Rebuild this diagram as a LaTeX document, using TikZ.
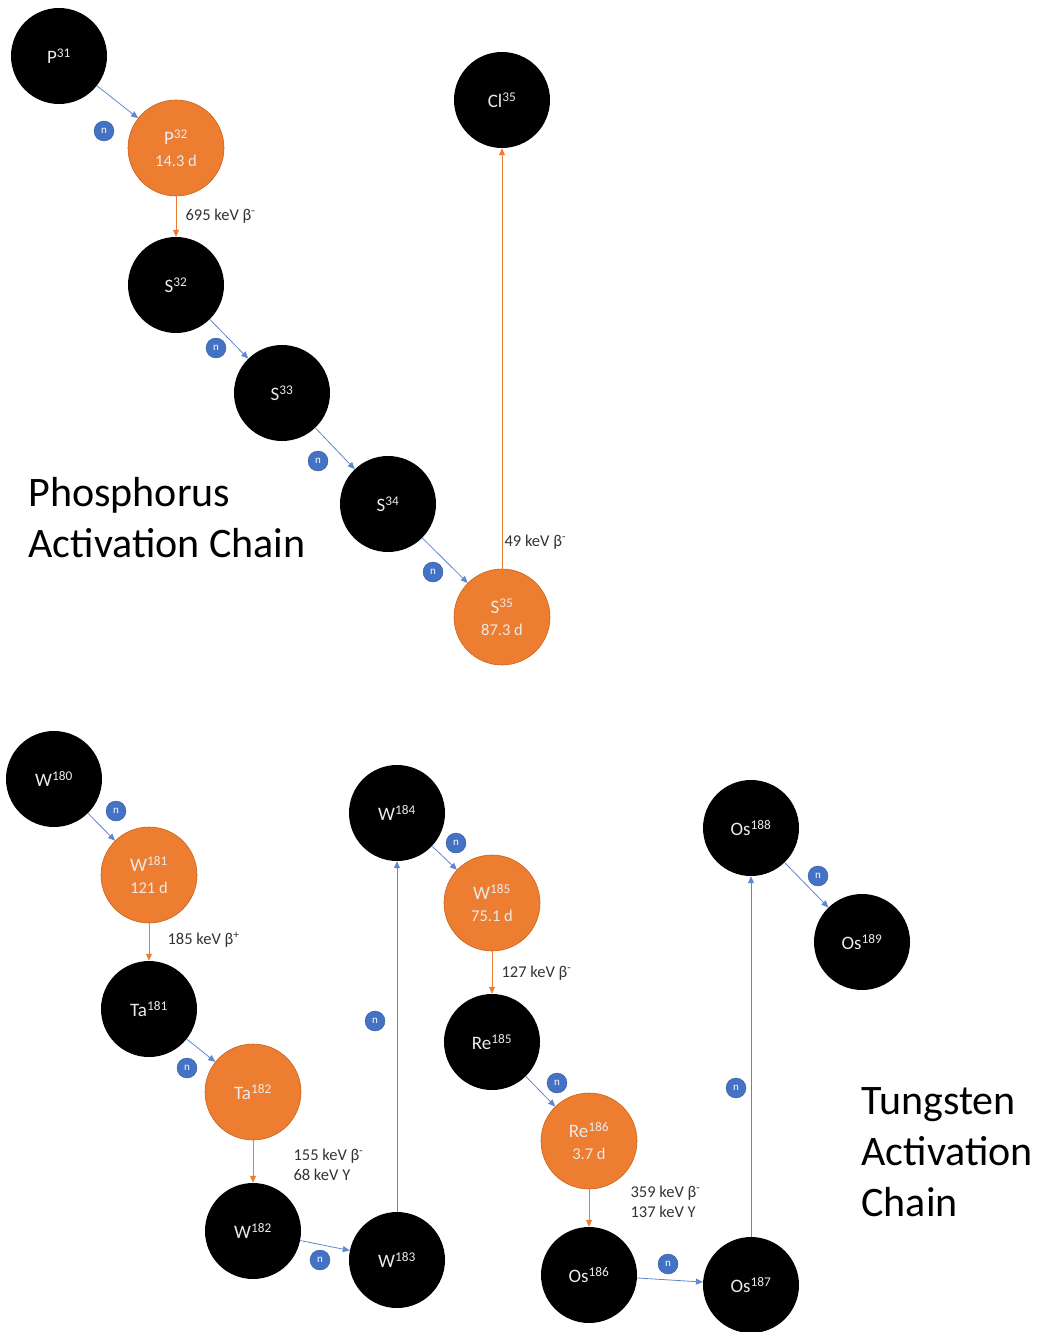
\documentclass[tikz,border=0pt]{standalone}
\usepackage{fontspec}
\setmainfont{Carlito}
\usepackage{tikz}
\usetikzlibrary{arrows.meta}
\definecolor{decayOrange}{HTML}{ED7D31}
\definecolor{decayEdge}{HTML}{C8641E}
\definecolor{captureBlue}{HTML}{4472C4}
\definecolor{labelGrey}{HTML}{333333}

\tikzset{
  stable/.style={circle,fill=black,minimum size=96pt,inner sep=0pt,text=white!92!black,
    font=\fontsize{19}{22}\selectfont},
  unstable/.style={circle,fill=decayOrange,draw=decayEdge,line width=0.6pt,minimum size=96pt,
    inner sep=0pt,align=center,text=white!92!black,font=\fontsize{19}{25}\selectfont},
  nbadge/.style={circle,fill=captureBlue,draw=captureBlue!80!black,line width=0.4pt,
    minimum size=20pt,inner sep=0pt,text=white,font=\fontsize{11}{11}\selectfont},
  capture/.style={captureBlue!85!white,line width=0.8pt,-{Triangle[length=7pt,width=6pt]}},
  decay/.style={decayOrange,line width=0.8pt,-{Triangle[length=7pt,width=6pt]}},
  energy/.style={anchor=west,text=labelGrey,align=left,font=\fontsize{16.5}{20}\selectfont},
  chaintitle/.style={anchor=north west,align=left,font=\fontsize{42}{51}\selectfont}
}
\newcommand{\halflife}[1]{\\[-3pt]{\fontsize{16.5}{18}\selectfont #1}}

\begin{document}
\begin{tikzpicture}[x=1pt,y=-1pt]
  \useasboundingbox (0,0) rectangle (1039,1332);

  % phosphorus chain
  \node[stable] (p31) at (59,56) {P\textsuperscript{31}};
  \node[unstable] (p32) at (176,148) {P\textsuperscript{32}\halflife{14.3 d}};
  \node[stable] (s32) at (176,285) {S\textsuperscript{32}};
  \node[stable] (s33) at (282,393) {S\textsuperscript{33}};
  \node[stable] (s34) at (388,504) {S\textsuperscript{34}};
  \node[unstable] (s35) at (502,617) {S\textsuperscript{35}\halflife{87.3 d}};
  \node[stable] (cl35) at (502,100) {Cl\textsuperscript{35}};

  \node[nbadge] (n1) at (104,131) {n};
  \node[nbadge] (n2) at (216,348) {n};
  \node[nbadge] (n3) at (318,461) {n};
  \node[nbadge] (n4) at (433,572) {n};

  \draw[capture] (p31) -- (p32);
  \draw[decay] (p32) -- (s32);
  \draw[capture] (s32) -- (s33);
  \draw[capture] (s33) -- (s34);
  \draw[capture] (s34) -- (s35);
  \draw[decay] (s35) -- (cl35);

  \node[energy] (e1) at (182,216) {695 keV β\textsuperscript{-}};
  \node[energy] (e2) at (501,542) {49 keV β\textsuperscript{-}};

  \node[chaintitle] (ptitle) at (25,474) {Phosphorus\\Activation Chain};

  % tungsten chain
  \node[stable] (w180) at (54,779) {W\textsuperscript{180}};
  \node[unstable] (w181) at (149,875) {W\textsuperscript{181}\halflife{121 d}};
  \node[stable] (ta181) at (149,1009) {Ta\textsuperscript{181}};
  \node[unstable] (ta182) at (253,1092) {Ta\textsuperscript{182}};
  \node[stable] (w182) at (253,1231) {W\textsuperscript{182}};
  \node[stable] (w183) at (397,1260) {W\textsuperscript{183}};
  \node[stable] (w184) at (397,813) {W\textsuperscript{184}};
  \node[unstable] (w185) at (492,903) {W\textsuperscript{185}\halflife{75.1 d}};
  \node[stable] (re185) at (492,1042) {Re\textsuperscript{185}};
  \node[unstable] (re186) at (589,1141) {Re\textsuperscript{186}\halflife{3.7 d}};
  \node[stable] (os186) at (589,1275) {Os\textsuperscript{186}};
  \node[stable] (os187) at (751,1285) {Os\textsuperscript{187}};
  \node[stable] (os188) at (751,828) {Os\textsuperscript{188}};
  \node[stable] (os189) at (862,942) {Os\textsuperscript{189}};

  \node[nbadge] (n5) at (116,811) {n};
  \node[nbadge] (n6) at (187,1068) {n};
  \node[nbadge] (n7) at (320,1260) {n};
  \node[nbadge] (n8) at (375,1021) {n};
  \node[nbadge] (n9) at (456,843) {n};
  \node[nbadge] (n10) at (557,1083) {n};
  \node[nbadge] (n11) at (668,1264) {n};
  \node[nbadge] (n12) at (736,1088) {n};
  \node[nbadge] (n13) at (818,876) {n};

  \draw[capture] (w180) -- (w181);
  \draw[decay] (w181) -- (ta181);
  \draw[capture] (ta181) -- (ta182);
  \draw[decay] (ta182) -- (w182);
  \draw[capture] (w182) -- (w183);
  \draw[capture] (w183) -- (w184);
  \draw[capture] (w184) -- (w185);
  \draw[decay] (w185) -- (re185);
  \draw[capture] (re185) -- (re186);
  \draw[decay] (re186) -- (os186);
  \draw[capture] (os186) -- (os187);
  \draw[capture] (os187) -- (os188);
  \draw[capture] (os188) -- (os189);

  \node[energy] (e3) at (164,940) {185 keV β\textsuperscript{+}};
  \node[energy] (e4) at (290,1165) {155 keV β\textsuperscript{-}\\68 keV Y};
  \node[energy] (e5) at (498,973) {127 keV β\textsuperscript{-}};
  \node[energy] (e6) at (627,1202) {359 keV β\textsuperscript{-}\\137 keV Y};

  \node[chaintitle] (wtitle) at (858,1084) {Tungsten\\Activation\\Chain};
\end{tikzpicture}
\end{document}
